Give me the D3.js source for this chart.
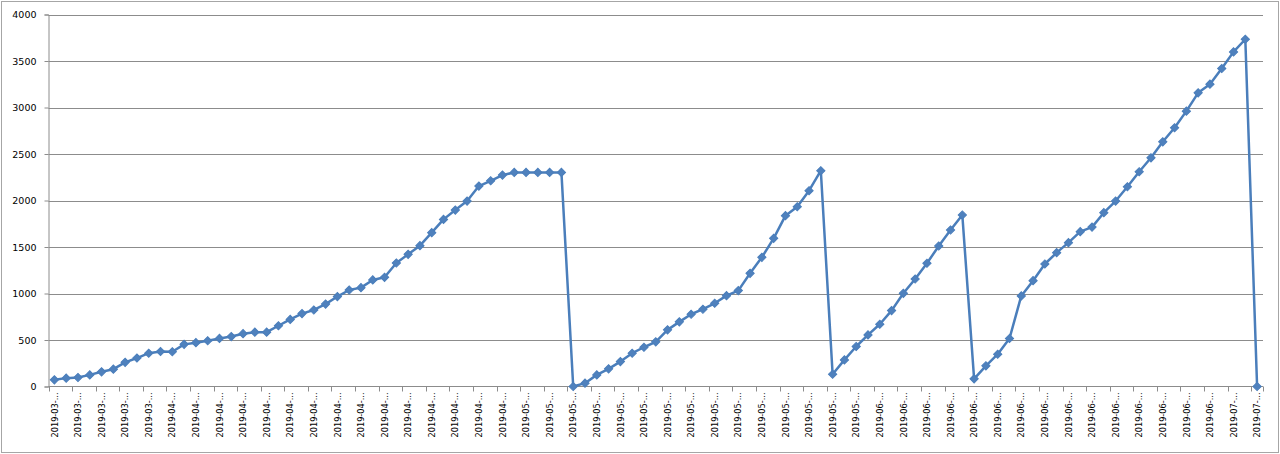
<!DOCTYPE html>
<html>
<head>
<meta charset="utf-8">
<script src="https://cdn.jsdelivr.net/npm/d3@7"></script>
<style>
  html, body { margin: 0; padding: 0; background: #fff; }
  svg { display: block; }
  text { font-family: "DejaVu Sans", sans-serif; fill: #000; }
</style>
</head>
<body>
<svg id="chart" width="1280" height="454"></svg>
<script>
const categories = [
  "2019-03-23","2019-03-24","2019-03-25","2019-03-26","2019-03-27","2019-03-28","2019-03-29","2019-03-30","2019-03-31",
  "2019-04-01","2019-04-02","2019-04-03","2019-04-04","2019-04-05","2019-04-06","2019-04-07","2019-04-08","2019-04-09","2019-04-10",
  "2019-04-11","2019-04-12","2019-04-13","2019-04-14","2019-04-15","2019-04-16","2019-04-17","2019-04-18","2019-04-19","2019-04-20",
  "2019-04-21","2019-04-22","2019-04-23","2019-04-24","2019-04-25","2019-04-26","2019-04-27","2019-04-28","2019-04-29","2019-04-30",
  "2019-05-01","2019-05-02","2019-05-03","2019-05-04","2019-05-05","2019-05-06","2019-05-07","2019-05-08","2019-05-09","2019-05-10",
  "2019-05-11","2019-05-12","2019-05-13","2019-05-14","2019-05-15","2019-05-16","2019-05-17","2019-05-18","2019-05-19","2019-05-20",
  "2019-05-21","2019-05-22","2019-05-23","2019-05-24","2019-05-25","2019-05-26","2019-05-27","2019-05-28","2019-05-29","2019-05-30",
  "2019-05-31",
  "2019-06-01","2019-06-02","2019-06-03","2019-06-04","2019-06-05","2019-06-06","2019-06-07","2019-06-08","2019-06-09","2019-06-10",
  "2019-06-11","2019-06-12","2019-06-13","2019-06-14","2019-06-15","2019-06-16","2019-06-17","2019-06-18","2019-06-19","2019-06-20",
  "2019-06-21","2019-06-22","2019-06-23","2019-06-24","2019-06-25","2019-06-26","2019-06-27","2019-06-28","2019-06-29","2019-06-30",
  "2019-07-01","2019-07-02","2019-07-03"
];

const values = [
  72, 90, 97, 125, 158, 186, 260, 306, 358, 376,
  374, 453, 471, 492, 517, 537, 568, 584, 584, 653,
  721, 784, 823, 886, 967, 1038, 1063, 1146, 1174, 1328,
  1421, 1514, 1654, 1797, 1897, 1994, 2155, 2212, 2273, 2302,
  2302, 2302, 2302, 2302, 0, 36, 125, 190, 268, 358,
  422, 480, 609, 695, 777, 831, 895, 977, 1031, 1217,
  1389, 1593, 1837, 1933, 2105, 2320, 132, 286, 430, 555,
  669, 816, 1002, 1156, 1325, 1511, 1683, 1844, 82, 222,
  347, 516, 974, 1138, 1317, 1439, 1547, 1665, 1714, 1869,
  1994, 2148, 2309, 2459, 2631, 2782, 2961, 3158, 3251, 3419,
  3598, 3734, 0
];

const yTicks = [0, 500, 1000, 1500, 2000, 2500, 3000, 3500, 4000];

(function () {
const svg = d3.select("#chart");
const plotLeft = 48.5, plotRight = 1263, plotTop = 14.5, plotBottom = 386.5;

// chart area border
svg.append("rect")
  .attr("x", 1.5).attr("y", 1.5)
  .attr("width", 1277).attr("height", 451)
  .attr("fill", "#fff").attr("stroke", "#a6a6a6").attr("stroke-width", 1);

const x = d3.scaleBand().domain(categories).range([plotLeft, plotRight]).padding(0);
const y = d3.scaleLinear().domain([0, 4000]).range([plotBottom, plotTop]);
const cx = d => x(d) + x.bandwidth() / 2;

// gridlines
svg.append("g").selectAll("line").data(yTicks.filter(t => t > 0)).join("line")
  .attr("x1", plotLeft).attr("x2", plotRight)
  .attr("y1", d => Math.round(y(d)) + 0.5).attr("y2", d => Math.round(y(d)) + 0.5)
  .attr("stroke", "#8c8c8c").attr("stroke-width", 1);

// y axis
const yAxis = d3.axisLeft(y).tickValues(yTicks).tickSize(4).tickPadding(8).tickFormat(d3.format("d"));
const gy = svg.append("g").attr("transform", `translate(${plotLeft},0)`).call(yAxis);
gy.select(".domain").attr("stroke", "#8c8c8c");
gy.selectAll(".tick line").attr("stroke", "#8c8c8c");
gy.selectAll(".tick text").style("font-family", "'DejaVu Sans', sans-serif").style("font-size", "9.5px").attr("fill", "#000");

// x axis line
svg.append("line").attr("x1", plotLeft).attr("x2", plotRight).attr("y1", plotBottom).attr("y2", plotBottom)
  .attr("stroke", "#8c8c8c");

// x tick marks at category boundaries every 2 categories
const tickCats = categories.filter((d, i) => i % 2 === 0);
svg.append("g").selectAll("line").data(tickCats).join("line")
  .attr("x1", d => Math.round(x(d)) + 0.5).attr("x2", d => Math.round(x(d)) + 0.5)
  .attr("y1", plotBottom).attr("y2", plotBottom + 5)
  .attr("stroke", "#8c8c8c");
svg.append("line").attr("x1", plotRight + 0.5).attr("x2", plotRight + 0.5)
  .attr("y1", plotBottom).attr("y2", plotBottom + 5).attr("stroke", "#8c8c8c");

// x labels
svg.append("g").selectAll("text").data(tickCats).join("text")
  .attr("transform", d => `translate(${cx(d)},${plotBottom + 6}) rotate(-90)`)
  .attr("text-anchor", "end")
  .attr("dy", "0.35em")
  .attr("textLength", 45)
  .attr("lengthAdjust", "spacingAndGlyphs")
  .style("font-size", "9px")
  .text(d => d.slice(0, 8) + "...");

// line
const line = d3.line().x((d, i) => cx(categories[i])).y(d => y(d));
svg.append("path").datum(values)
  .attr("d", line)
  .attr("fill", "none")
  .attr("stroke", "#4a7ebb")
  .attr("stroke-width", 2.5)
  .attr("stroke-linejoin", "round");

// diamond markers
const sym = d3.symbol().type(d3.symbolSquare).size(34);
svg.append("g").selectAll("path").data(values).join("path")
  .attr("transform", (d, i) => `translate(${cx(categories[i])},${y(d)}) rotate(45)`)
  .attr("d", sym)
  .attr("fill", "#4f81bd")
  .attr("stroke", "#4a7ebb")
  .attr("stroke-width", 1);
})();
</script>
</body>
</html>
